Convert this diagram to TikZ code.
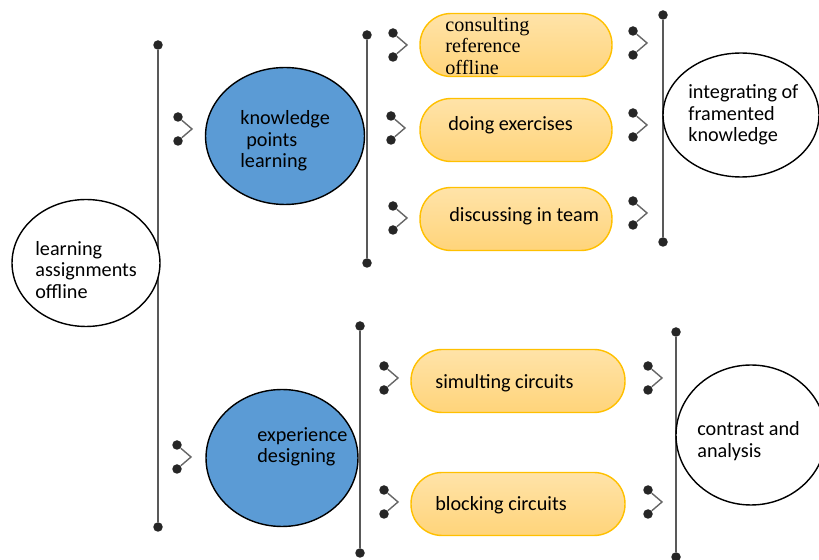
\documentclass[tikz,border=0pt]{standalone}
\usepackage{xcolor}
\usepackage{fontspec}
\setmainfont{Carlito}
\newfontfamily\serifwords{Liberation Serif}
\usetikzlibrary{shapes.geometric}

\definecolor{ovalblue}{HTML}{5B9BD5}
\definecolor{pillfill}{HTML}{FFD47A}
\definecolor{pilledge}{HTML}{FFC000}
\definecolor{bargray}{HTML}{595959}

\tikzset{
    oval/.style={ellipse, draw=black, line width=0.8pt, fill=white, inner sep=0pt},
    blueoval/.style={oval, fill=ovalblue},
    pill/.style={rectangle, rounded corners=0.62cm, draw=pilledge, line width=0.8pt,
        top color=pillfill!65, bottom color=pillfill, minimum width=3.84cm, minimum height=1.26cm},
    words/.style={inner sep=0pt, anchor=west, align=left, font=\fontsize{11.5}{12.2}\selectfont},
    bar/.style={draw=bargray, line width=1.2pt},
    knob/.style={circle, fill=black!85, inner sep=0pt, minimum size=0.19cm},
    hook/.style={draw=black!60, line width=0.8pt},
}

\begin{document}
\begin{tikzpicture}[x=0.02cm, y=-0.02cm]
                        \useasboundingbox (0,0) rectangle (819,560);

                        % vertical bars with end knobs
                        \node[knob] (b1t) at (158,45) {};
                        \node[knob] (b1b) at (158,527) {};
                        \node[knob] (b2t) at (367,35) {};
                        \node[knob] (b2b) at (367,263) {};
                        \node[knob] (b3t) at (663,15) {};
                        \node[knob] (b3b) at (663,242) {};
                        \node[knob] (b4t) at (360,326) {};
                        \node[knob] (b4b) at (360,553) {};
                        \node[knob] (b5t) at (676,332) {};
                        \node[knob] (b5b) at (676,557) {};
                        \draw[bar] (b1t) -- (b1b);
                        \draw[bar] (b2t) -- (b2b);
                        \draw[bar] (b3t) -- (b3b);
                        \draw[bar] (b4t) -- (b4b);
                        \draw[bar] (b5t) -- (b5b);

                        % little hooks
                        \foreach \n/\x/\y in {h1/192/129, h2/191/457,
                                              h3/407/45, h4/405/128, h5/407/218,
                                              h6/647/43, h7/647/125, h8/647/213,
                                              h9/398/378, h10/398/502,
                                              h11/662/378, h12/662/502} {
                            \node[knob] (\n a) at (\x-14,\y-12) {};
                            \node[knob] (\n b) at (\x-14,\y+12) {};
                            \coordinate (\n c) at (\x,\y);
                            \draw[hook] (\n a) -- (\n c) -- (\n b);
                        }

                        % ovals
                        \node[oval, minimum width=2.96cm, minimum height=2.54cm] (task) at (86,263) {};
                        \node[blueoval, minimum width=3.18cm, minimum height=2.74cm] (know) at (285,136) {};
                        \node[blueoval, minimum width=3.04cm, minimum height=2.74cm] (expe) at (282,458) {};
                        \node[oval, minimum width=3.12cm, minimum height=2.48cm] (integ) at (741,115) {};
                        \node[oval, minimum width=3.0cm, minimum height=2.8cm] (contr) at (751,435) {};

                        % pills
                        \node[pill] (cons) at (516,45) {};
                        \node[pill] (doing) at (516,130) {};
                        \node[pill] (disc) at (516,219) {};
                        \node[pill, minimum width=4.28cm] (simu) at (518,381) {};
                        \node[pill, minimum width=4.28cm] (block) at (518,504) {};

                        % texts
                        \node[words] (taskt) at (35,270) {learning\\assignments\\offline};
                        \node[words] (knowt) at (240,141) {knowledge\\\hspace*{0.12cm}points\\learning};
                        \node[words] (expet) at (257,447) {experience\\designing};
                        \node[words, font=\serifwords\fontsize{11.5}{12.2}\selectfont] (const) at (445,46) {consulting\\reference\\offline};
                        \node[words] (doingt) at (448,125) {doing exercises};
                        \node[words] (disct) at (449,216) {discussing in team};
                        \node[words] (integt) at (688,115) {integrating of\\framented\\knowledge};
                        \node[words] (simut) at (435,383) {simulting circuits};
                        \node[words] (blockt) at (435,505) {blocking circuits};
                        \node[words] (contrt) at (697,441) {contrast and\\analysis};
                    \end{tikzpicture}
\end{document}
